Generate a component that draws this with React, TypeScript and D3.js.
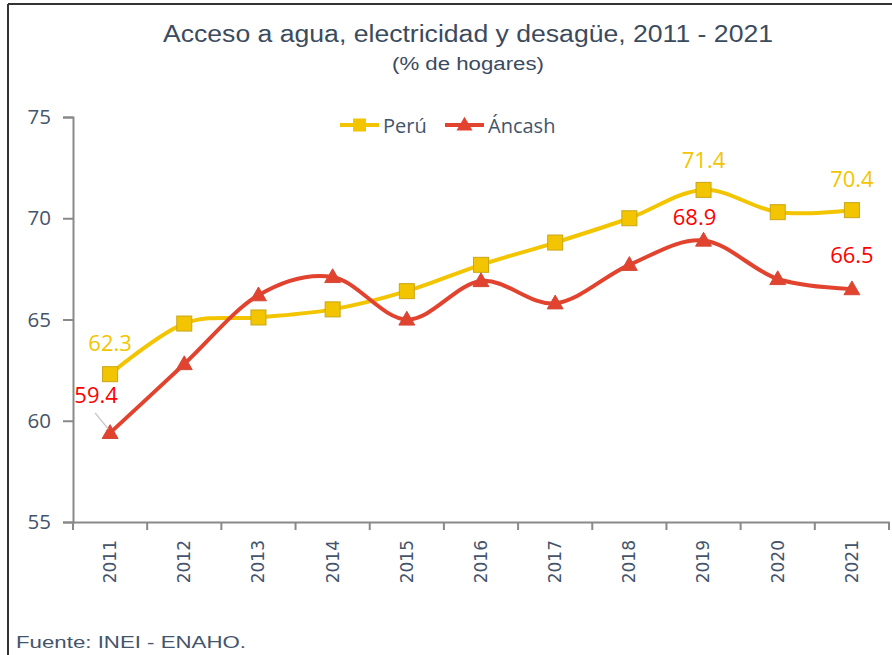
import React, { useEffect, useRef } from "react";
import * as d3 from "d3";

const years = ["2011", "2012", "2013", "2014", "2015", "2016", "2017", "2018", "2019", "2020", "2021"];
const peru = [62.3, 64.8, 65.1, 65.5, 66.4, 67.7, 68.8, 70.0, 71.4, 70.3, 70.4];
const ancash = [59.4, 62.8, 66.2, 67.1, 65.0, 66.9, 65.8, 67.7, 68.9, 67.0, 66.5];
const yTicks = [55, 60, 65, 70, 75];
// labelled points: [index, dx, dy]
const peruLabels = [[0, 0, -23], [8, 0, -22], [10, 0, -23]];
const ancashLabels = [[0, -14, -30], [8, -9, -16], [10, 0, -26]];

const YELLOW = "#F2C500";
const RED = "#E2432F";
const TEXT = "#44546A";

export default function App() {
  const ref = useRef(null);

  useEffect(() => {
    document.body.style.margin = "0";
    const svg = d3.select(ref.current);
    svg.selectAll("*").remove();

    const margin = { top: 117, left: 73, right: 3, bottom: 133 };
    const width = 892, height = 655;

    const x = d3.scaleBand().domain(years).range([margin.left, width - margin.right]);
    const y = d3.scaleLinear().domain([55, 75]).range([height - margin.bottom, margin.top]);
    const cx = (i) => x(years[i]) + x.bandwidth() / 2;

    // frame
    svg.append("line").attr("x1", 8).attr("x2", width).attr("y1", 4).attr("y2", 4)
      .attr("stroke", "#333").attr("stroke-width", 2);
    svg.append("line").attr("x1", 8).attr("x2", 8).attr("y1", 4).attr("y2", height)
      .attr("stroke", "#333").attr("stroke-width", 2);

    svg.append("text").attr("x", 468).attr("y", 42).attr("text-anchor", "middle")
      .attr("font-family", "Liberation Sans, Arial").attr("font-size", 23).attr("fill", "#3B4B5E")
      .attr("textLength", 610).attr("lengthAdjust", "spacingAndGlyphs")
      .text("Acceso a agua, electricidad y desagüe, 2011 - 2021");
    svg.append("text").attr("x", 468).attr("y", 70).attr("text-anchor", "middle")
      .attr("font-family", "Liberation Sans, Arial").attr("font-size", 18).attr("fill", "#3B4B5E")
      .attr("textLength", 152).attr("lengthAdjust", "spacingAndGlyphs")
      .text("(% de hogares)");

    // y axis
    const yAxis = svg.append("g").attr("transform", `translate(${margin.left},0)`)
      .call(d3.axisLeft(y).tickValues(yTicks).tickSize(10).tickPadding(12));
    yAxis.select(".domain").attr("stroke", "#898989").attr("stroke-width", 2);
    yAxis.selectAll(".tick line").attr("stroke", "#898989").attr("stroke-width", 2);
    yAxis.selectAll(".tick text").attr("font-family", "Open Sans").attr("font-size", 20.5).attr("fill", TEXT);

    // x axis
    const xAxis = svg.append("g").attr("transform", `translate(0,${y(55)})`)
      .call(d3.axisBottom(x).tickSize(0).tickSizeOuter(0));
    xAxis.select(".domain").attr("stroke", "#898989").attr("stroke-width", 2);
    xAxis.selectAll(".tick text")
      .attr("font-family", "DejaVu Sans").attr("font-size", 17).attr("fill", TEXT)
      .attr("transform", "rotate(-90)").attr("text-anchor", "end")
      .attr("x", -18).attr("y", 0).attr("dy", "0.35em");
    xAxis.selectAll(".bound").data(d3.range(years.length + 1)).enter().append("line")
      .attr("x1", (i) => margin.left + i * x.step()).attr("x2", (i) => margin.left + i * x.step())
      .attr("y1", 0).attr("y2", 8).attr("stroke", "#898989").attr("stroke-width", 2);

    const line = d3.line().x((d, i) => cx(i)).y((d) => y(d)).curve(d3.curveCatmullRom.alpha(0));

    svg.append("path").datum(peru).attr("d", line).attr("fill", "none")
      .attr("stroke", YELLOW).attr("stroke-width", 4);
    svg.append("path").datum(ancash).attr("d", line).attr("fill", "none")
      .attr("stroke", RED).attr("stroke-width", 4);

    const sq = 15;
    svg.selectAll(".sq").data(peru).enter().append("rect")
      .attr("x", (d, i) => cx(i) - sq / 2).attr("y", (d) => y(d) - sq / 2)
      .attr("width", sq).attr("height", sq).attr("fill", YELLOW)
      .attr("stroke", "#C9A616").attr("stroke-width", 1);

    const tri = d3.symbol().type(d3.symbolTriangle).size(110);
    svg.selectAll(".tri").data(ancash).enter().append("path")
      .attr("d", tri).attr("transform", (d, i) => `translate(${cx(i)},${y(d) + 1})`)
      .attr("fill", RED).attr("stroke", "#D24A3A").attr("stroke-width", 1);

    // leader line for 59.4
    svg.append("line").attr("x1", cx(0) - 15).attr("y1", y(ancash[0]) - 20)
      .attr("x2", cx(0) - 2).attr("y2", y(ancash[0]) - 4)
      .attr("stroke", "#C8C8C8").attr("stroke-width", 1.5);

    const label = (data, list, color) => {
      list.forEach(([i, dx, dy]) => {
        svg.append("text").attr("x", cx(i) + dx).attr("y", y(data[i]) + dy)
          .attr("text-anchor", "middle").attr("font-family", "Open Sans").attr("font-size", 22)
          .attr("fill", color).text(data[i].toFixed(1));
      });
    };
    label(peru, peruLabels, YELLOW);
    label(ancash, ancashLabels, "#FF0000");

    // legend
    const lg = svg.append("g").attr("transform", "translate(340,125)");
    lg.append("line").attr("x1", 0).attr("x2", 39).attr("stroke", YELLOW).attr("stroke-width", 4);
    lg.append("rect").attr("x", 13).attr("y", -6.5).attr("width", 13).attr("height", 13).attr("fill", YELLOW);
    lg.append("text").attr("x", 43).attr("y", 7.5).attr("font-family", "Open Sans").attr("font-size", 20)
      .attr("fill", TEXT).text("Perú");
    lg.append("line").attr("x1", 105).attr("x2", 144).attr("stroke", RED).attr("stroke-width", 4);
    lg.append("path").attr("d", tri).attr("transform", "translate(124.5,1)").attr("fill", RED);
    lg.append("text").attr("x", 148).attr("y", 7.5).attr("font-family", "Open Sans").attr("font-size", 20)
      .attr("fill", TEXT).text("Áncash");

    svg.append("text").attr("x", 16).attr("y", 648).attr("font-family", "Liberation Sans, Arial")
      .attr("font-size", 17).attr("fill", TEXT).attr("textLength", 230).attr("lengthAdjust", "spacingAndGlyphs")
      .text("Fuente: INEI - ENAHO.");
  }, []);

  return <svg ref={ref} width={892} height={655} style={{ display: "block", background: "#fff" }} />;
}
